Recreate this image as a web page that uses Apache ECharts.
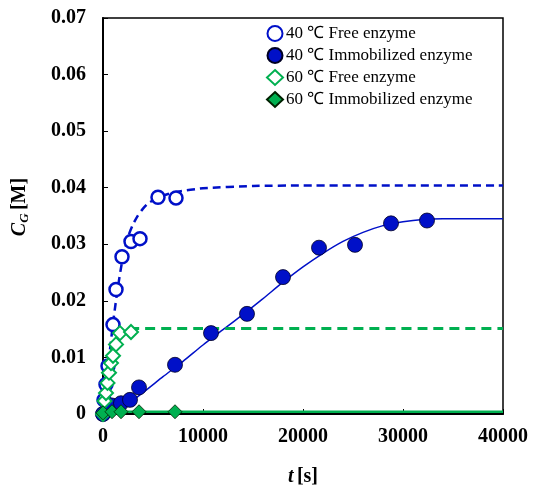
<!DOCTYPE html>
<html><head><meta charset="utf-8">
<script src="https://cdn.jsdelivr.net/npm/echarts@6/dist/echarts.min.js"></script>
<style>html,body{margin:0;padding:0;background:#fff}#c{width:535px;height:488px}</style>
</head><body><div id="c"></div>
<script>
// ---- data ----
const seriesNames = ['40 ℃ Free enzyme', '40 ℃ Immobilized enzyme', '60 ℃ Free enzyme', '60 ℃ Immobilized enzyme'];
const free40_t = [0, 100, 300, 500, 1000, 1300, 1900, 2800, 3700, 5500, 7300];
const free40_c = [0, 0.0025, 0.0052, 0.0085, 0.0158, 0.0220, 0.0278, 0.0305, 0.0310, 0.0383, 0.0382];
const imm40_t = [0, 900, 1800, 2700, 3600, 7200, 10800, 14400, 18000, 21600, 25200, 28800, 32400];
const imm40_c = [0, 0.0015, 0.0019, 0.0025, 0.0047, 0.0087, 0.0143, 0.0177, 0.0242, 0.0294, 0.0299, 0.0337, 0.0342];
const free60_t = [0, 150, 300, 450, 600, 800, 1000, 1300, 1700, 2800];
const free60_c = [0, 0.0023, 0.0037, 0.0055, 0.0073, 0.0090, 0.0103, 0.0123, 0.0143, 0.0145];
const imm60_t = [0, 900, 1800, 3600, 7200];
const imm60_c = [0.0002, 0.0004, 0.0004, 0.0004, 0.0004];
// fitted curves
const fit40free_t = [0, 250, 500, 750, 1000, 1250, 1500, 1750, 2000, 2500, 3000, 3500, 4000, 4500, 5500, 6500, 7500, 10000, 15000, 20000, 40000];
const fit40free_c = [0, 0.0042, 0.0082, 0.0122, 0.0160, 0.0194, 0.0225, 0.0253, 0.0278, 0.0313, 0.0335, 0.0351, 0.0363, 0.0372, 0.0383, 0.0389, 0.0393, 0.0399, 0.0403, 0.0404, 0.0404];
const fit40imm_t = [0, 2000, 4000, 6000, 8000, 10000, 12000, 14000, 16000, 18000, 20000, 22000, 24000, 26000, 28000, 30000, 32000, 34000, 40000];
const fit40imm_c = [0, 0.0012, 0.0038, 0.0066, 0.0093, 0.0122, 0.0149, 0.0176, 0.0204, 0.0233, 0.0260, 0.0284, 0.0305, 0.0321, 0.0333, 0.0340, 0.0344, 0.0345, 0.0345];
const fit60free_t = [0, 250, 500, 750, 1000, 1250, 1500, 2000, 3000, 40000];
const fit60free_c = [0, 0.0045, 0.0080, 0.0106, 0.0125, 0.0138, 0.0145, 0.0150, 0.0151, 0.0151];
const fit60imm_t = [0, 500, 1000, 40000];
const fit60imm_c = [0.0003, 0.0004, 0.0004, 0.0004];
const xTickLabels = ['0', '10000', '20000', '30000', '40000'];
const yTickLabels = ['0', '0.01', '0.02', '0.03', '0.04', '0.05', '0.06', '0.07'];

const zip = (a, b) => a.map((v, i) => [v, b[i]]);
const BLUE = '#0010c8', GREEN = '#00b050';
const FONT = '"Liberation Serif", "Times New Roman", serif';

const chart = echarts.init(document.getElementById('c'), null, {renderer: 'canvas'});
const lineS = (t, c, color, width, type) => ({
  type: 'line', data: zip(t, c), showSymbol: false, symbol: 'none', smooth: 0.2,
  lineStyle: {color, width, type}, z: 3, silent: true
});
chart.setOption({
  animation: false,
  grid: {left: 103, top: 18, width: 400, height: 396, show: true, borderColor: '#000', borderWidth: 1.5, backgroundColor: 'transparent'},
  xAxis: {
    type: 'value', min: 0, max: 40000, interval: 10000,
    axisLine: {show: true, onZero: false, lineStyle: {color: '#000', width: 2}},
    axisTick: {show: true, inside: true, length: 5, lineStyle: {color: '#000', width: 1}},
    splitLine: {show: false},
    axisLabel: {margin: 13, color: '#000', fontFamily: FONT, fontWeight: 'bold', fontSize: 20,
      formatter: (v) => xTickLabels[Math.round(v / 10000)]}
  },
  yAxis: {
    type: 'value', min: 0, max: 0.07, interval: 0.01,
    axisLine: {show: true, onZero: false, lineStyle: {color: '#000', width: 2}},
    axisTick: {show: true, inside: true, length: 5, lineStyle: {color: '#000', width: 1}},
    splitLine: {show: false},
    axisLabel: {margin: 17, color: '#000', fontFamily: FONT, fontWeight: 'bold', fontSize: 20,
      formatter: (v) => yTickLabels[Math.round(v / 0.01)]}
  },
  legend: {
    orient: 'vertical', left: 261, top: 20, itemGap: 5, itemWidth: 16, itemHeight: 15,
    data: seriesNames,
    textStyle: {fontFamily: FONT, fontSize: 17, color: '#000', padding: [0, 0, 0, -2]},
    selectedMode: false
  },
  graphic: [
    {type: 'text', x: 20, y: 207, rotation: Math.PI / 2, style: {
      text: '{i|C}{s|G} {b|[M]}', align: 'center', verticalAlign: 'middle',
      rich: {
        i: {fontFamily: FONT, fontStyle: 'italic', fontWeight: 'bold', fontSize: 20, fill: '#000'},
        s: {fontFamily: FONT, fontStyle: 'italic', fontWeight: 'bold', fontSize: 13, fill: '#000', padding: [10, 0, 0, 0]},
        b: {fontFamily: FONT, fontWeight: 'bold', fontSize: 20, fill: '#000'}
      }}},
    {type: 'text', x: 303, y: 477, style: {
      text: '{i|t} {b|[s]}', align: 'center', verticalAlign: 'middle',
      rich: {
        i: {fontFamily: FONT, fontStyle: 'italic', fontWeight: 'bold', fontSize: 20, fill: '#000'},
        b: {fontFamily: FONT, fontWeight: 'bold', fontSize: 20, fill: '#000'}
      }}}
  ],
  series: [
    lineS(fit40free_t, fit40free_c, BLUE, 2.5, [8, 5]),
    lineS(fit40imm_t, fit40imm_c, BLUE, 1.5, 'solid'),
    lineS(fit60free_t, fit60free_c, GREEN, 3, [10, 6]),
    lineS(fit60imm_t, fit60imm_c, GREEN, 2.5, 'solid'),
    {name: seriesNames[0], type: 'scatter', data: zip(free40_t, free40_c), symbol: 'circle', symbolSize: 13,
      itemStyle: {color: '#fff', borderColor: BLUE, borderWidth: 2.5, opacity: 1}, z: 4},
    {name: seriesNames[1], type: 'scatter', data: zip(imm40_t, imm40_c), symbol: 'circle', symbolSize: 15,
      itemStyle: {color: BLUE, borderColor: '#000022', borderWidth: 0.8, opacity: 1}, z: 4},
    {name: seriesNames[2], type: 'scatter', data: zip(free60_t, free60_c), symbol: 'diamond', symbolSize: 14,
      itemStyle: {color: '#fff', borderColor: GREEN, borderWidth: 2, opacity: 1}, z: 4},
    {name: seriesNames[3], type: 'scatter', data: zip(imm60_t, imm60_c), symbol: 'diamond', symbolSize: 14,
      itemStyle: {color: GREEN, borderColor: '#002200', borderWidth: 0.8, opacity: 1}, z: 4}
  ]
});
</script></body></html>
